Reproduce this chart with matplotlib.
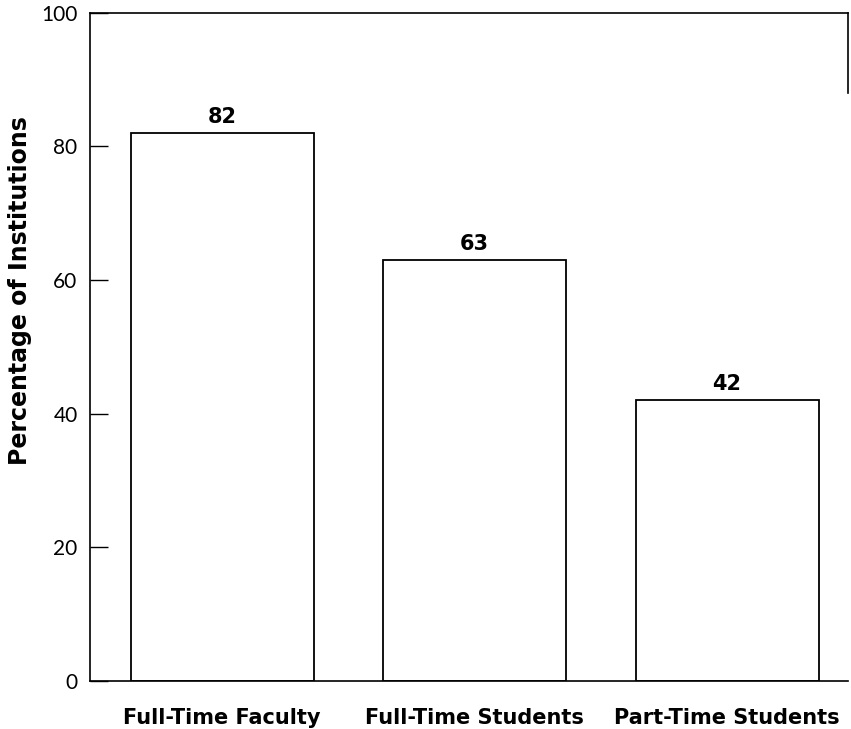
import matplotlib
matplotlib.use('Agg')
import matplotlib.pyplot as plt

categories = ['Full-Time Faculty', 'Full-Time Students', 'Part-Time Students']
percentages = [82, 63, 42]
y_ticks = [0, 20, 40, 60, 80, 100]

plt.rcParams['font.family'] = ['Lato', 'DejaVu Sans']
bold_font = ['DejaVu Sans']

fig = plt.figure(figsize=(8.51, 7.29), dpi=100)
ax = fig.add_axes([0.1058, 0.0665, 0.8907, 0.9157])

x = range(len(categories))
bars = ax.bar(x, percentages, width=0.725, color='white', edgecolor='black', linewidth=1.3)

for b, v in zip(bars, percentages):
    ax.text(b.get_x() + b.get_width() / 2, v + 0.9, str(v), ha='center', va='bottom',
            fontsize=15, fontweight='bold', family=bold_font)

ax.set_xlim(-0.523, 2.479)
ax.set_ylim(0, 100)
ax.set_yticks(y_ticks)
ax.set_xticks(list(x))
ax.set_xticklabels(categories, fontsize=15, fontweight='bold', family=bold_font)
ax.tick_params(axis='x', length=0, pad=20)
ax.tick_params(axis='y', direction='in', length=13, width=1, pad=9, labelsize=15)

for s in ['left', 'top', 'bottom', 'right']:
    ax.spines[s].set_linewidth(1.2)
ax.spines['right'].set_bounds(88, 100)

ax.set_ylabel('Percentage of Institutions', fontsize=17, fontweight='bold', family=bold_font)
ax.yaxis.set_label_coords(-0.077, 0.584)

fig.savefig('out.png', dpi=100)
